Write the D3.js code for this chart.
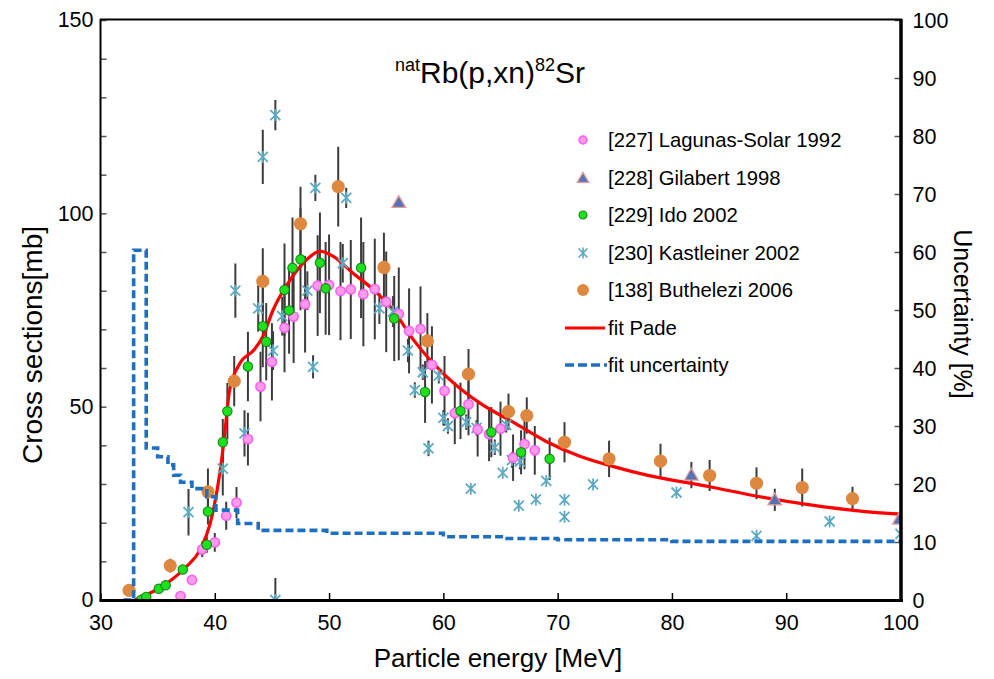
<!DOCTYPE html>
<html><head><meta charset="utf-8">
<script src="https://cdn.jsdelivr.net/npm/d3@7"></script>
<style>
body{margin:0;background:#fff}
svg{display:block;font-family:"Liberation Sans",Arial,sans-serif}
</style>
</head><body>
<svg id="c" width="994" height="679"></svg>
<script>
// ---------- data ----------
// [227] Lagunas-Solar 1992
const lagE   = [37.0,38.0,38.9,40.0,41.0,41.9,42.9,44.0,45.0,46.1,46.9,47.9,49.0,50.0,51.0,51.9,53.0,54.0,55.0,56.1,57.0,58.0,59.0,60.1,61.0,62.2,63.0,64.0,65.0,66.1,67.1,68.0];
const lagV   = [1.0,5.2,13.1,14.9,21.8,25.2,41.6,55.2,61.6,70.4,73.3,76.5,81.3,81.5,79.9,80.3,79.1,80.4,77.1,74.0,69.6,70.1,60.8,54.1,48.3,50.6,44.1,42.9,44.3,36.8,40.3,38.7];
const lagErr = [0.3,0.8,2.0,2.4,3.6,4.0,6.8,9.0,10,11.5,12,12.5,13,13,12.7,12.8,13.5,13,13,12,11,11,10,9,8,8,7,7,7,6,6.5,6.3];
// [228] Gilabert 1998
const gilE   = [56.1,81.7,89.0,99.9];
const gilV   = [102.8,32.3,25.9,20.9];
const gilErr = [0,3.4,2.9,0];
// [229] Ido 2002
const idoE   = [33.6,34.0,35.1,35.7,37.2,39.3,39.4,40.7,41.1,42.9,44.2,44.5,46.1,46.5,46.8,47.5,49.2,49.7,52.8,55.7,58.4,61.5,64.2,66.8,69.3];
const idoV   = [0.1,0.8,2.9,3.8,7.9,14.3,22.9,40.8,48.8,60.4,70.8,66.8,80.2,74.9,85.9,88.1,87.2,80.6,85.9,72.8,53.8,48.9,43.4,38.2,36.5];
const idoErr = [0.1,0.2,0.5,0.6,1.2,2.1,3.4,6,7.3,9,10.6,10,12,11.2,13,13.2,13,12,13,11,8,7.3,6.5,5.7,5.5];
// [230] Kastleiner 2002
const kasE   = [37.7,40.7,41.8,42.6,43.8,44.2,45.1,45.3,45.3,45.9,48.1,48.6,48.8,51.2,51.5,54.4,55.6,56.9,57.5,58.2,58.7,59.6,60.0,60.4,62.0,62.4,62.9,64.5,65.2,65.5,66.0,66.7,66.6,68.1,69.0,70.6,70.6,73.1,80.4,87.4,93.8,100.0];
const kasV   = [22.7,34.0,80.0,43.1,75.4,114.6,64.5,125.4,0,73.4,80.0,60.3,106.6,87.1,104.0,75.4,74.6,64.5,54.3,58.9,39.2,58.0,47.1,45.0,46.0,28.8,44.5,39.5,32.9,45.3,36.2,35.8,24.4,26.0,30.8,25.9,21.5,29.9,27.8,16.6,20.3,17.1];
const kasErr = [6,7,7,6,6,7,5,3.9,5.7,5,5,3,3.4,5,2.6,4,4,3,2,2,2,2,2,2,2,0,2,2,0,2,2,2,0,0,0,0,0,0,0,0,0,0];
// [138] Buthelezi 2006
const butE   = [32.5,36.1,39.4,41.7,44.2,47.5,50.8,54.8,58.6,62.2,65.7,67.3,70.6,74.5,79.0,83.3,87.4,91.4,95.8];
const butV   = [2.5,8.9,28.0,56.6,82.4,97.3,106.9,86.0,67.0,58.4,48.7,47.7,40.8,36.5,35.9,32.2,30.2,29.1,26.2];
const butErr = [0.5,1.8,6,6.5,8.6,9.6,10.3,9,7.2,6.5,4.7,4.7,5.2,4.7,4.5,4,4.1,4.9,3.1];
// fit Pade (mb)
const fitE = [33.0,35.8,37.5,38.7,39.6,40.2,40.6,40.9,41.3,42.2,43.4,44.2,45.1,46.6,48.0,49.2,50.4,52.1,53.9,55.6,57.4,60.3,63.2,66.1,69.0,72.0,74.9,77.8,83.3,87.7,92.1,96.5,100];
const fitV = [0,4.3,8.6,12.9,19.8,28.4,36.2,44.0,54.3,61.2,64.6,68.1,75.0,82.8,87.9,90.2,88.8,84.5,80.2,75.0,67.2,57.7,50.9,46.0,41.0,37.1,34.5,32.3,29.3,26.7,24.6,23.0,22.2];
// fit uncertainty (%), step function
const uncE = [32.0,32.9,34.0,35.0,35.9,36.4,37.0,38.0,39.3,40.1,42.0,43.8,49.8,60.0,65.3,70.0,80.0,90.0,100];
const uncV = [0,60.3,26.2,24.7,23.3,21.5,20.3,19.2,17.8,15.5,13.2,12.0,11.5,10.9,10.6,10.4,10.1,10.1,10.3];
// axes / labels
const xTicks = [30,40,50,60,70,80,90,100];
const yTicks = [0,10,20,30,40,50,60,70,80,90,100,110,120,130,140,150];
const yLabels = [0,50,100,150];
const y2Ticks = [0,10,20,30,40,50,60,70,80,90,100];
const legendNames = ["[227] Lagunas-Solar 1992","[228] Gilabert 1998","[229] Ido 2002","[230] Kastleiner 2002","[138] Buthelezi 2006","fit Pade","fit uncertainty"];

// ---------- drawing ----------
const svg = d3.select("#c");
const x = d3.scaleLinear().domain([30,100]).range([100.5,900.5]);
const y = d3.scaleLinear().domain([0,150]).range([600,20]);
const y2 = d3.scaleLinear().domain([0,100]).range([600,20]);

svg.append("defs").append("clipPath").attr("id","plot")
  .append("rect").attr("x",100.5).attr("y",20).attr("width",800).attr("height",580);

const zip = (E,V,Er) => E.map((e,i)=>({e, v:V[i], er: Er ? Er[i] : 0}));
const lag = zip(lagE,lagV,lagErr), gil = zip(gilE,gilV,gilErr), ido = zip(idoE,idoV,idoErr),
      kas = zip(kasE,kasV,kasErr), but = zip(butE,butV,butErr);

// axes
const gx = svg.append("g").attr("transform","translate(0,600)")
  .call(d3.axisBottom(x).tickValues(xTicks).tickSize(-7).tickPadding(15).tickFormat(d3.format("d")));
const gy = svg.append("g").attr("transform","translate(100.5,0)")
  .call(d3.axisLeft(y).tickValues(yTicks).tickSize(-6).tickPadding(7).tickFormat(d => yLabels.includes(d) ? d : ""));
const gy2 = svg.append("g").attr("transform","translate(900.5,0)")
  .call(d3.axisRight(y2).tickValues(y2Ticks).tickSize(-6).tickPadding(12).tickFormat(d3.format("d")));
[gx,gy,gy2].forEach(g=>{
  g.select(".domain").remove();
  g.selectAll("text").attr("font-size",21.5).attr("fill","#000").attr("font-family","Liberation Sans, Arial, sans-serif");
});
gy2.selectAll("text").attr("dy","0.34em");
gx.selectAll(".tick line").attr("stroke","#000").attr("stroke-width",1.5);
gy.selectAll(".tick line").attr("stroke","#555").attr("stroke-width",1.5);
gy2.selectAll(".tick line").attr("stroke","#555").attr("stroke-width",1.5);

const plot = svg.append("g").attr("clip-path","url(#plot)");

// error bars
const allPts = [].concat(lag,gil,ido,kas,but).filter(d=>d.er>0);
plot.append("g").selectAll("line").data(allPts).join("line")
  .attr("x1",d=>x(d.e)).attr("x2",d=>x(d.e))
  .attr("y1",d=>y(d.v-d.er)).attr("y2",d=>y(d.v+d.er))
  .attr("stroke","#3c3c3c").attr("stroke-width",2);

// fit Pade
plot.append("path").datum(fitE.map((e,i)=>[e,fitV[i]]))
  .attr("fill","none").attr("stroke","#ff0000").attr("stroke-width",3.2)
  .attr("d", d3.line().x(d=>x(d[0])).y(d=>y(d[1])).curve(d3.curveMonotoneX));

// markers
const star = "M-5,-5L5,5M-5,5L5,-5M0,-6L0,6";
function drawSeries(g, data, kind, scale){
  scale = scale || 1;
  if(kind==="pink"){
    g.selectAll("circle.p").data(data).join("circle").attr("cx",d=>x(d.e)).attr("cy",d=>y(d.v))
      .attr("r",4.6*scale).attr("fill","#f99be9").attr("stroke","#ff5ef0").attr("stroke-width",1.6);
  } else if(kind==="green"){
    g.selectAll("circle.g").data(data).join("circle").attr("cx",d=>x(d.e)).attr("cy",d=>y(d.v))
      .attr("r",4.7*scale).attr("fill","#1ee01e").attr("stroke","#138a13").attr("stroke-width",1.1);
  } else if(kind==="orange"){
    g.selectAll("circle.o").data(data).join("circle").attr("cx",d=>x(d.e)).attr("cy",d=>y(d.v))
      .attr("r",6.6*scale).attr("fill","#de873e");
  } else if(kind==="tri"){
    g.selectAll("path.t").data(data).join("path")
      .attr("transform",d=>`translate(${x(d.e)},${y(d.v)+1})`)
      .attr("d",d3.symbol(d3.symbolTriangle, 80*scale*scale)())
      .attr("fill","#5572b4").attr("stroke","#e59a9a").attr("stroke-width",1.3);
  } else if(kind==="star"){
    g.selectAll("path.s").data(data).join("path")
      .attr("transform",d=>`translate(${x(d.e)},${y(d.v)}) scale(${scale})`)
      .attr("d",star).attr("fill","none").attr("stroke","#5ea9c4").attr("stroke-width",1.8);
  }
}
drawSeries(plot.append("g"), but, "orange");
drawSeries(plot.append("g"), kas, "star");
drawSeries(plot.append("g"), gil, "tri");
drawSeries(plot.append("g"), lag, "pink");
drawSeries(plot.append("g"), ido, "green");

// fit uncertainty (right axis)
svg.append("path").datum(uncE.map((e,i)=>[e,uncV[i]]))
  .attr("fill","none").attr("stroke","#1d6fc2").attr("stroke-width",3.6)
  .attr("stroke-dasharray","8,4")
  .attr("d", d3.line().x(d=>x(d[0])).y(d=>y2(d[1])).curve(d3.curveStepAfter));

// frame
const fr = svg.append("g").attr("stroke","#000");
fr.append("line").attr("x1",100.5).attr("x2",100.5).attr("y1",19).attr("y2",601).attr("stroke-width",2);
fr.append("line").attr("x1",100).attr("x2",902).attr("y1",19.5).attr("y2",19.5).attr("stroke-width",2);
fr.append("line").attr("x1",99.5).attr("x2",903).attr("y1",600.5).attr("y2",600.5).attr("stroke-width",3);
fr.append("line").attr("x1",901).attr("x2",901).attr("y1",19).attr("y2",602).attr("stroke-width",3.5);

// axis titles
svg.append("text").attr("x",498).attr("y",667).attr("text-anchor","middle")
  .attr("font-size",26).text("Particle energy [MeV]");
svg.append("text").attr("transform","translate(42,345) rotate(-90)").attr("text-anchor","middle")
  .attr("font-size",28).text("Cross sections[mb]");
svg.append("text").attr("transform","translate(954,314) rotate(90)").attr("text-anchor","middle")
  .attr("font-size",25).text("Uncertainty [%]");

// title
const t = svg.append("text").attr("x",490).attr("y",83).attr("text-anchor","middle").attr("font-size",30);
t.append("tspan").attr("font-size",18).attr("dy",-12).text("nat");
t.append("tspan").attr("dy",12).text("Rb(p,xn)");
t.append("tspan").attr("font-size",18).attr("dy",-12).text("82");
t.append("tspan").attr("dy",12).text("Sr");

// legend
const legY = [140,178,215,253,290,328,365];
const lg = svg.append("g");
const kinds = ["pink","tri","green","star","orange"];
kinds.forEach((k,i)=>{
  const g = lg.append("g");
  const e = x.invert(583), v = y.invert(legY[i]);
  drawSeries(g, [{e, v}], k, k==="orange"?0.9:(k==="star"?0.9:0.85));
});
lg.append("line").attr("x1",565).attr("x2",605).attr("y1",legY[5]).attr("y2",legY[5])
  .attr("stroke","#ff0000").attr("stroke-width",3.2);
lg.append("line").attr("x1",565).attr("x2",607).attr("y1",legY[6]).attr("y2",legY[6])
  .attr("stroke","#1d6fc2").attr("stroke-width",3.6).attr("stroke-dasharray","9,4");
legendNames.forEach((n,i)=>{
  lg.append("text").attr("x",608).attr("y",legY[i]+7).attr("font-size",20.3).text(n);
});
</script>
</body></html>
